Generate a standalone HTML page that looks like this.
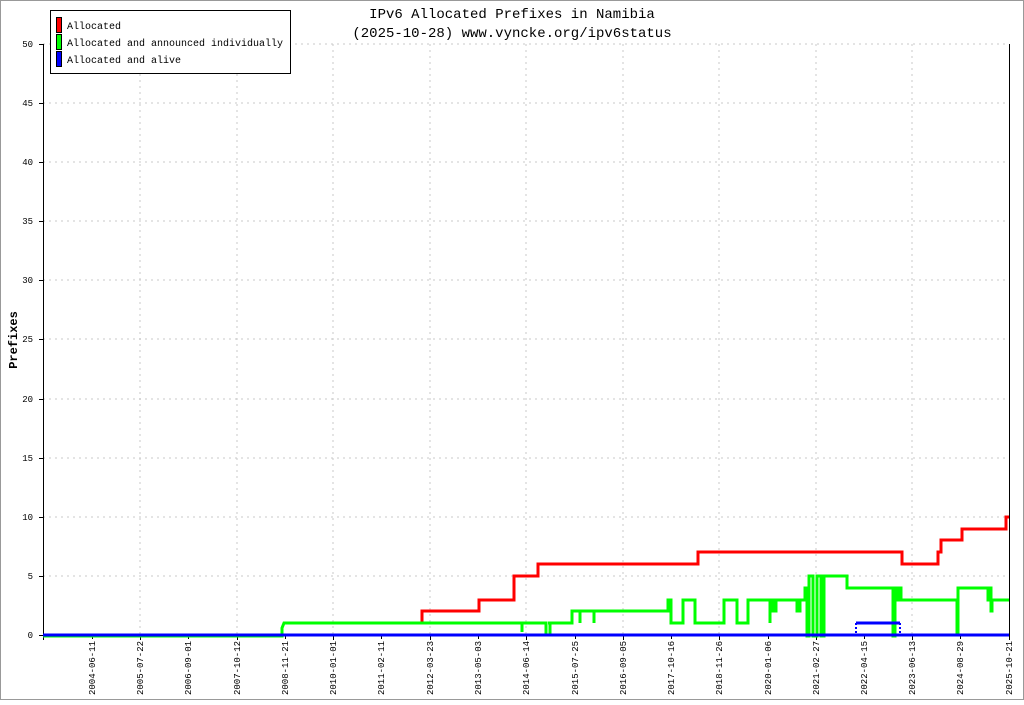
<!DOCTYPE html>
<html><head><meta charset="utf-8"><style>
body{margin:0;background:#fff}
svg text{font-family:"Liberation Mono","DejaVu Sans Mono",monospace}
</style></head><body>
<svg width="1024" height="700" xmlns="http://www.w3.org/2000/svg">
<rect x="0.5" y="0.5" width="1023" height="699" fill="#fff" stroke="#999"/>
<g stroke="#c8c8c8" stroke-dasharray="2,4" stroke-width="1">
<path d="M43 44H1009M43 103H1009M43 162H1009M43 221H1009M43 280H1009M43 339H1009M43 399H1009M43 458H1009M43 517H1009M43 576H1009"/>
<path d="M140 44V635M237 44V635M333 44V635M430 44V635M526 44V635M623 44V635M719 44V635M816 44V635M912 44V635"/>
</g>
<g stroke="#000" stroke-width="1">
<path d="M43.5 44V640M1009.5 44V640M43 635.5H1009"/>
<path d="M39 44.5H43M39 103.5H43M39 162.5H43M39 221.5H43M39 280.5H43M39 339.5H43M39 399.5H43M39 458.5H43M39 517.5H43M39 576.5H43M39 635.5H43"/>
<path d="M92.5 635v4M140.5 635v5M188.5 635v4M237.5 635v5M285.5 635v4M333.5 635v5M381.5 635v4M430.5 635v5M478.5 635v4M526.5 635v5M575.5 635v4M623.5 635v5M671.5 635v4M719.5 635v5M768.5 635v4M816.5 635v5M864.5 635v4M912.5 635v5M960.5 635v4M1009.5 635v5"/>
</g>
<g font-size="9" text-anchor="end" fill="#000">
<text x="33" y="47">50</text><text x="33" y="106">45</text><text x="33" y="165">40</text><text x="33" y="224">35</text><text x="33" y="283">30</text><text x="33" y="342">25</text><text x="33" y="402">20</text><text x="33" y="461">15</text><text x="33" y="520">10</text><text x="33" y="579">5</text><text x="33" y="638">0</text>
</g>
<g font-size="9" text-anchor="end" fill="#000">
<text transform="translate(95,695) rotate(-90)" text-anchor="start">2004-06-11</text>
<text transform="translate(143,695) rotate(-90)" text-anchor="start">2005-07-22</text>
<text transform="translate(191,695) rotate(-90)" text-anchor="start">2006-09-01</text>
<text transform="translate(240,695) rotate(-90)" text-anchor="start">2007-10-12</text>
<text transform="translate(288,695) rotate(-90)" text-anchor="start">2008-11-21</text>
<text transform="translate(336,695) rotate(-90)" text-anchor="start">2010-01-01</text>
<text transform="translate(384,695) rotate(-90)" text-anchor="start">2011-02-11</text>
<text transform="translate(433,695) rotate(-90)" text-anchor="start">2012-03-23</text>
<text transform="translate(481,695) rotate(-90)" text-anchor="start">2013-05-03</text>
<text transform="translate(529,695) rotate(-90)" text-anchor="start">2014-06-14</text>
<text transform="translate(578,695) rotate(-90)" text-anchor="start">2015-07-25</text>
<text transform="translate(626,695) rotate(-90)" text-anchor="start">2016-09-05</text>
<text transform="translate(674,695) rotate(-90)" text-anchor="start">2017-10-16</text>
<text transform="translate(722,695) rotate(-90)" text-anchor="start">2018-11-26</text>
<text transform="translate(771,695) rotate(-90)" text-anchor="start">2020-01-06</text>
<text transform="translate(819,695) rotate(-90)" text-anchor="start">2021-02-27</text>
<text transform="translate(867,695) rotate(-90)" text-anchor="start">2022-04-15</text>
<text transform="translate(915,695) rotate(-90)" text-anchor="start">2023-06-13</text>
<text transform="translate(963,695) rotate(-90)" text-anchor="start">2024-08-29</text>
<text transform="translate(1012,695) rotate(-90)" text-anchor="start">2025-10-21</text>
</g>
<text transform="translate(17,340) rotate(-90)" font-size="12" font-weight="bold" text-anchor="middle">Prefixes</text>
<text x="512" y="18" font-size="14" text-anchor="middle">IPv6 Allocated Prefixes in Namibia</text>
<text x="512" y="37" font-size="14" text-anchor="middle">(2025-10-28) www.vyncke.org/ipv6status</text>
<path d="M422 623V611H479V600H514V576H538V564H698V552H902V564H938V552H941V540H962V529H1006V517H1009" fill="none" stroke="#f00" stroke-width="3"/>
<path d="M43 636H282V628L284 623H522V632M522 623H546V634M548 623H550V634M550 623H572V611H580V623M580 611H594V623M594 611H668V600H671V623H683V600H695V623H724V600H737V623H748V600H770V623M770 600H773V611H776V600H797V611H800V600H805V588H807V636H809V576H813V636H817V576H821V636H824V576H830H847V588H893V636H895V588H896V600H899V588H901V600H903V600H957V632H958V588H988V600H990V588H991V611H992V600H1009" fill="none" stroke="#0f0" stroke-width="3" stroke-linejoin="miter"/>
<path d="M43 635H1009" stroke="#00f" stroke-width="3"/>
<path d="M856 623H900" stroke="#00f" stroke-width="3"/>
<path d="M856 623V635M900 623V635" stroke="#00f" stroke-width="2" stroke-dasharray="2,2"/>
<rect x="50.5" y="10.5" width="240" height="63" fill="#fff" stroke="#000"/>
<rect x="56.5" y="17.5" width="5" height="15" fill="#f00" stroke="#000"/>
<rect x="56.5" y="34.5" width="5" height="15" fill="#0f0" stroke="#000"/>
<rect x="56.5" y="51.5" width="5" height="15" fill="#00f" stroke="#000"/>
<g font-size="10"><text x="67" y="29">Allocated</text><text x="67" y="46">Allocated and announced individually</text><text x="67" y="63">Allocated and alive</text></g>
</svg>
</body></html>
